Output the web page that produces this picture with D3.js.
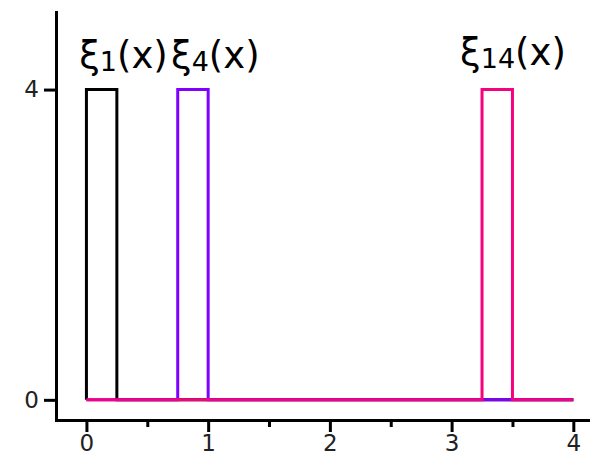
<!DOCTYPE html>
<html>
<head>
<meta charset="utf-8">
<script src="https://cdn.jsdelivr.net/npm/d3@7"></script>
<style>
  body { margin: 0; background: #fff; }
  .axis text { font-family: "DejaVu Sans", sans-serif; font-size: 23px; fill: #222; }
  .axis path, .axis line { stroke: #000; stroke-width: 3; }
  .label { font-family: "DejaVu Sans", sans-serif; font-size: 37px; fill: #000; }
</style>
</head>
<body>
<div id="chart"></div>
<script>
// step functions xi_k(x), drawn on [0, 4]
var seriesNames = ["1", "4", "14"];
var seriesColors = ["#000000", "#8000ff", "#f5037f"];
var xi1X = [0, 0, 0.25, 0.25, 4];
var xi1Y = [0, 4, 4, 0, 0];
var xi4X = [0, 0.75, 0.75, 1, 1, 4];
var xi4Y = [0, 0, 4, 4, 0, 0];
var xi14X = [0, 3.25, 3.25, 3.5, 3.5, 4];
var xi14Y = [0, 0, 4, 4, 0, 0];
var labelX = [-0.06, 0.695, 3.07];
var labelY = [4.28, 4.28, 4.32];

var xTicks = [0, 1, 2, 3, 4];
var xMinorTicks = [0.5, 1.5, 2.5, 3.5];
var yTicks = [0, 4];

var width = 590, height = 463;

var svg = d3.select('#chart').append('svg')
    .attr('width', width)
    .attr('height', height);

var xScale = d3.scaleLinear().domain([-0.25, 4.137]).range([56, 590]);
var yScale = d3.scaleLinear().domain([-0.26, 5.0]).range([420, 12]);

// minor ticks on x
svg.append('g')
    .attr('class', 'x axis minor')
    .attr('transform', `translate(0,${yScale(-0.26)})`)
    .call(d3.axisBottom(xScale).tickValues(xMinorTicks).tickSize(7).tickSizeOuter(0).tickFormat(''));

svg.append('g')
    .attr('class', 'x axis')
    .attr('transform', `translate(0,${yScale(-0.26)})`)
    .call(d3.axisBottom(xScale).tickValues(xTicks).tickSize(12).tickSizeOuter(0)
        .tickPadding(3).tickFormat(d3.format('d')));

svg.append('g')
    .attr('class', 'y axis')
    .attr('transform', `translate(${xScale(-0.25)},0)`)
    .call(d3.axisLeft(yScale).tickValues(yTicks).tickSize(12).tickSizeOuter(0)
        .tickPadding(5).tickFormat(d3.format('d')));

svg.selectAll('.axis .domain').attr('stroke-linecap', 'square');

var seriesX = [xi1X, xi4X, xi14X];
var seriesY = [xi1Y, xi4Y, xi14Y];

var line = d3.line()
    .x(function(d) { return xScale(d[0]); })
    .y(function(d) { return yScale(d[1]); });

seriesNames.forEach(function(name, i) {
    var pts = d3.zip(seriesX[i], seriesY[i]);
    svg.append('path')
        .datum(pts)
        .attr('d', line)
        .attr('fill', 'none')
        .attr('stroke', seriesColors[i])
        .attr('stroke-width', 3);

    var t = svg.append('text')
        .attr('class', 'label')
        .attr('x', xScale(labelX[i]))
        .attr('y', yScale(labelY[i]));
    t.append('tspan').text('ξ');
    t.append('tspan').attr('dy', 3).style('font-size', '27px').text(name);
    t.append('tspan').attr('dy', -3).text('(x)');
});
</script>
</body>
</html>
